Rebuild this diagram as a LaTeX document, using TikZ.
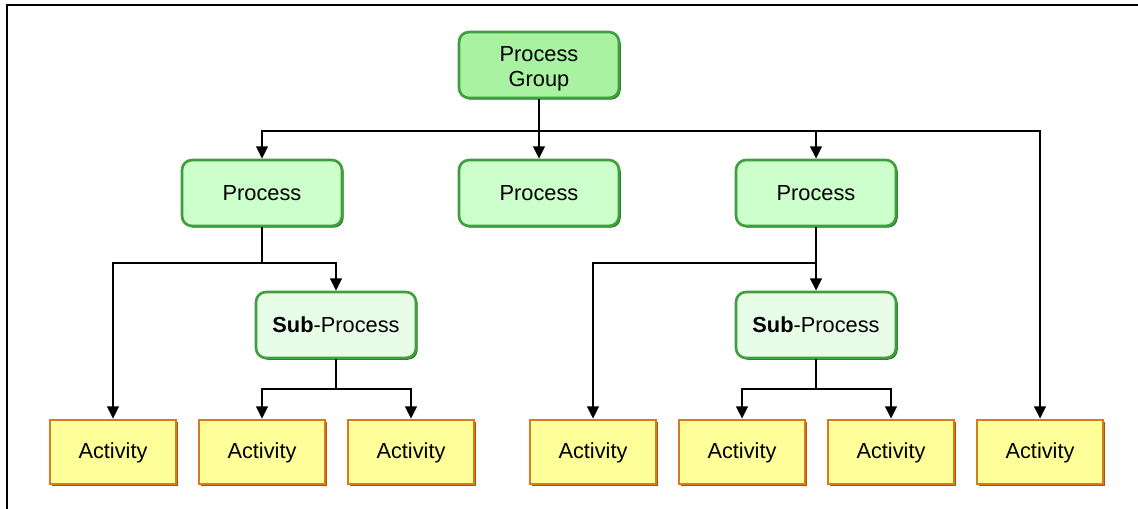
\documentclass[tikz,border=0pt]{standalone}
\usepackage{fontspec}
\setmainfont{Liberation Sans}
\usepackage{xcolor}
\usepackage{tikz}
\usetikzlibrary{arrows.meta,shadows}
\definecolor{grpfill}{HTML}{A8F2A2}
\definecolor{procfill}{HTML}{CCFFCC}
\definecolor{subfill}{HTML}{E8FDE8}
\definecolor{actfill}{HTML}{FFFF99}
\definecolor{edgegreen}{HTML}{3F9F3F}
\definecolor{shadegreen}{HTML}{1F7A1F}
\definecolor{edgeorange}{HTML}{D97A1E}
\definecolor{shadeorange}{HTML}{A85400}

\begin{document}
\begin{tikzpicture}[x=0.02cm, y=-0.02cm, font=\fontsize{12.4}{14.4}\selectfont,
	greennode/.style={rounded corners=0.2cm, draw=edgegreen, line width=1.5pt, minimum width=3.2cm, minimum height=1.32cm, align=center, general shadow={fill=shadegreen, shadow xshift=1pt, shadow yshift=-1pt}},
	groupnode/.style={greennode, fill=grpfill},
	procnode/.style={greennode, fill=procfill, text height=0.95em, text depth=0.13em},
	subnode/.style={greennode, fill=subfill, text height=0.95em, text depth=0.13em},
	actnode/.style={rectangle, draw=edgeorange, line width=1.5pt, fill=actfill, minimum width=2.52cm, minimum height=1.28cm, text height=0.92em, text depth=0.18em, general shadow={fill=shadeorange, shadow xshift=1pt, shadow yshift=-1pt}},
	bus/.style={line width=1.4pt, -{Triangle[length=7pt,width=6.5pt]}},
	stub/.style={line width=0.7pt}]
   	\useasboundingbox (0,0) rectangle (1138,509);
   	\draw[line width=0.7pt] (7,509) -- (7,5) -- (1138,5);
   	% boxes
   	\node[groupnode] at (539,65) (pg) {\rule{0pt}{13pt}Process\\Group};
   	\node[procnode] at (262,193) (p1) {Process};
   	\node[procnode] at (539,193) (p2) {Process};
   	\node[procnode] at (816,193) (p3) {Process};
   	\node[subnode] at (336,325) (s1) {\textbf{Sub}-Process};
   	\node[subnode] at (816,325) (s2) {\textbf{Sub}-Process};
   	\foreach \x [count=\n] in {113, 262, 411, 593, 742, 891, 1040}
       		\node[actnode] at (\x,452) (a\n) {Activity};
   	% junctions
   	\coordinate (j0) at (539,131);
   	\coordinate (j1) at (262,263);
   	\coordinate (j2) at (336,389);
   	\coordinate (j3) at (816,263);
   	\coordinate (j4) at (816,389);
   	% connectors
        	\draw[line width=1.4pt] (pg) -- (j0);
            	\draw[bus] (j0) -| (p1);
            	\draw[bus] (j0) -- (p2);
            	\draw[bus] (j0) -| (p3);
            	\draw[bus] (j0) -| (a7);
            	\draw[stub] (p1) -- (j1);
            	\draw[bus] (j1) -| (a1);
            	\draw[bus] (j1) -| (s1);
		\draw[stub] (s1) -- (j2);
		\draw[bus] (j2) -| (a2);
		\draw[bus] (j2) -| (a3);
		\draw[stub] (p3) -- (j3);
		\draw[bus] (j3) -| (a4);
		\draw[bus] (j3) -- (s2);
		\draw[stub] (s2) -- (j4);
		\draw[bus] (j4) -| (a5);
		\draw[bus] (j4) -| (a6);
\end{tikzpicture}
\end{document}
